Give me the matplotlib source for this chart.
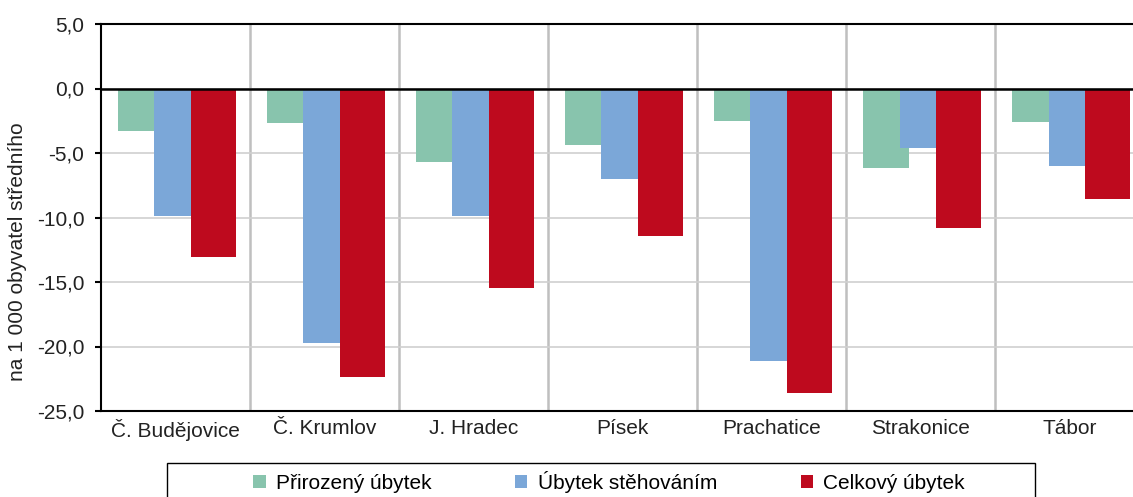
import matplotlib.pyplot as plt
import numpy as np
from matplotlib.patches import Rectangle

plt.rcParams["font.family"] = ["Liberation Sans", "DejaVu Sans"]

districts = ["Č. Budějovice", "Č. Krumlov", "J. Hradec", "Písek",
             "Prachatice", "Strakonice", "Tábor"]
natural = [-3.3, -2.7, -5.7, -4.35, -2.5, -6.2, -2.6]
migration = [-9.85, -19.7, -9.85, -7.05, -21.1, -4.65, -6.0]
total = [-13.1, -22.4, -15.5, -11.4, -23.6, -10.85, -8.6]

series_names = ["Přirozený úbytek", "Úbytek stěhováním", "Celkový úbytek"]
colors = ["#88c4ad", "#7ba7d8", "#be0a1e"]

W, H = 1133, 497
fig = plt.figure(figsize=(W / 100, H / 100), dpi=100)
ax = fig.add_axes([101 / W, 1 - 411 / H, 1 - 101 / W + 0.01, (411 - 24) / H])

x = np.arange(len(districts))
width = 0.305
step = 0.244
for i, (vals, name, col) in enumerate(zip([natural, migration, total], series_names, colors)):
    ax.bar(x + (i - 1) * step + 0.01, vals, width=width, color=col, label=name, zorder=3 + i)

ax.set_xlim(-0.5, len(districts) - 0.5)
ax.set_ylim(-25, 5)
yt = np.arange(-25, 6, 5)
ax.set_yticks(yt)
ax.set_yticklabels([f"{v:.1f}".replace(".", ",") for v in yt], fontsize=15, color="#222222")
ax.set_xticks(x)
ax.set_xticklabels(districts, fontsize=15, color="#222222")
ax.tick_params(axis="x", length=0, pad=6)
ax.tick_params(axis="y", direction="out", length=4, width=1.5, color="black", pad=8)

ax.yaxis.grid(True, color="#d0d0d0", linewidth=1.2, zorder=0)
for b in np.arange(0.5, len(districts) - 0.5, 1):
    ax.axvline(b, color="#bfbfbf", linewidth=1.8, zorder=1)
ax.axhline(0, color="black", linewidth=1.8, zorder=10)

for side in ["left", "bottom", "top"]:
    ax.spines[side].set_color("black")
    ax.spines[side].set_linewidth(1.5)
ax.spines["right"].set_visible(False)

fig.text(18 / W, 1 - 252 / H, "na 1 000 obyvatel středního", rotation=90,
         ha="center", va="center", fontsize=15, color="#222222")

# legend box (Excel-style, wider than its content)
fig.patches.append(Rectangle((167 / W, -0.05), (1035 - 167) / W, 0.05 + 1 - 463 / H,
                             transform=fig.transFigure, fill=False,
                             edgecolor="black", linewidth=1.0))
handles, labels = ax.get_legend_handles_labels()
fig.legend(handles, labels, loc="center left", bbox_to_anchor=(253 / W, 1 - 482 / H),
           ncol=3, fontsize=15, frameon=False, borderpad=0, borderaxespad=0,
           handlelength=0.6, handleheight=0.6, columnspacing=4.0, handletextpad=0.5)

fig.savefig("out.png", dpi=100)
